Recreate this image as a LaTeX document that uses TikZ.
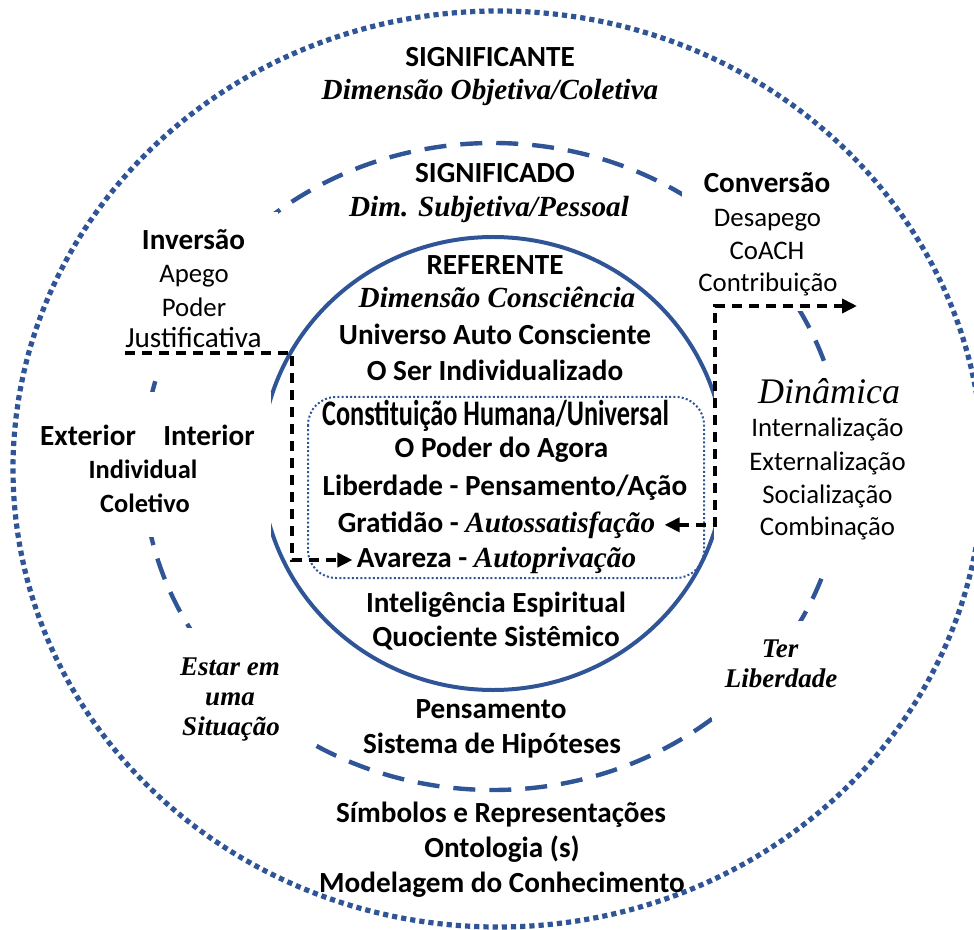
\documentclass[tikz,border=0pt]{standalone}
\usepackage{fontspec}
\setmainfont{Carlito}
\newfontfamily\handfont{Carlito}
\newfontfamily\brushfont{Liberation Serif}
\newfontfamily\dynfont{Liberation Serif}
\newfontfamily\condfont{Carlito}[FakeStretch=0.73]
\usetikzlibrary{arrows.meta}
\definecolor{ringblue}{RGB}{47,85,151}
\newcommand\brushtxt[1]{{\brushfont\bfseries\itshape #1}}

\tikzset{
  ring/.style={draw=ringblue},
  mask/.style={fill=white},
  title/.style={anchor=base, inner sep=0pt, font=\bfseries\fontsize{14.6}{17}\selectfont},
  titles/.style={title, font=\bfseries\fontsize{13.2}{16}\selectfont},
  hand/.style={anchor=base, inner sep=0pt, font=\handfont\fontsize{13.4}{16}\selectfont},
  handl/.style={hand, font=\handfont\fontsize{14.6}{17}\selectfont},
  brush/.style={anchor=base, inner sep=0pt, font=\brushfont\bfseries\itshape\fontsize{14.6}{17}\selectfont},
  brushs/.style={brush, font=\brushfont\bfseries\itshape\fontsize{13.5}{16}\selectfont},
  dyn/.style={anchor=base, inner sep=0pt, font=\dynfont\itshape\fontsize{18}{20}\selectfont},
  cond/.style={anchor=base, inner sep=0pt, font=\condfont\bfseries\fontsize{18}{20}\selectfont},
  flow/.style={draw=black, line width=1.8pt, dash pattern=on 5pt off 3.5pt}
}

\begin{document}
\begin{tikzpicture}[x=0.5pt, y=-0.5pt, >={Triangle[length=7.5pt, width=7pt]}]
\useasboundingbox (0,0) rectangle (974,930);

% rings
\draw[ring, line width=2.6pt, dash pattern=on 2.6pt off 2pt] (498,469) ellipse [x radius=242.5pt, y radius=229pt];
\draw[ring, line width=2.2pt, dash pattern=on 11pt off 7pt] (493,466.5) ellipse [x radius=175pt, y radius=161.75pt];
\draw[ring, line width=2pt] (493,463.5) ellipse [x radius=116pt, y radius=113.25pt];

% white boxes behind the side texts
\fill[mask] (110,212) rectangle (278,372);
\fill[mask] (682,160) rectangle (848,311);
\fill[mask] (714,362) rectangle (951,568);
\fill[mask] (30,392) rectangle (271,537);
\fill[mask] (150,628) rectangle (308,775);
\fill[mask] (712,621) rectangle (850,721);

% inner box
\draw[ring, line width=1pt, dash pattern=on 1pt off 1.1pt, rounded corners=14pt] (308,397) rectangle (704,578);

% centre column
\node[title] (sigte) at (490,67) {SIGNIFICANTE};
\node[brush] (dimobj) at (490,100) {Dimensão Objetiva/Coletiva};
\node[title] (sigdo) at (495,183) {SIGNIFICADO};
\node[brush] (dimsub) at (489,217) {Dim. Subjetiva/Pessoal};
\node[title] (refe) at (495,275) {REFERENTE};
\node[brush] (dimcon) at (497,308) {Dimensão Consciência};
\node[title] (univ) at (495,345) {Universo Auto Consciente};
\node[title] (ser) at (495,380) {O Ser Individualizado};
\node[cond] (const) at (495.5,425) {Constituição Humana/Universal};
\node[title] (agora) at (501.5,458) {O Poder do Agora};
\node[title] (liber) at (505,495) {Liberdade - Pensamento/Ação};
\node[title, inner xsep=4.5pt] (grat) at (496.5,532) {Gratidão - \brushtxt{Autossatisfação}};
\node[title, inner xsep=2pt] (avar) at (496.5,567) {Avareza - \brushtxt{Autoprivação}};
\node[title] (intel) at (496,612) {Inteligência Espiritual};
\node[title] (quoc) at (496,646) {Quociente Sistêmico};
\node[title] (pens) at (491,718) {Pensamento};
\node[title] (hipot) at (492,753) {Sistema de Hipóteses};
\node[title] (simb) at (501,822) {Símbolos e Representações};
\node[title] (onto) at (502,857) {Ontologia (s)};
\node[title] (model) at (502,892) {Modelagem do Conhecimento};

% left side
\node[title] (inv) at (193.5,250) {Inversão};
\node[hand] (apego) at (194,283) {Apego};
\node[hand] (poder) at (194,317) {Poder};
\node[handl] (justif) at (193.5,348) {Justificativa};
\node[title] (exter) at (88,445) {Exterior};
\node[title] (inter) at (209,445) {Interior};
\node[titles] (indiv) at (143,478) {Individual};
\node[titles] (colet) at (145,512) {Coletivo};
\node[brushs] (estar) at (230,675) {Estar em};
\node[brushs] (uma) at (230,705) {uma};
\node[brushs] (situ) at (231,735) {Situação};

% right side
\node[title] (conv) at (767,193) {Conversão};
\node[hand] (desap) at (767.5,227) {Desapego};
\node[hand] (coach) at (767,260) {CoACH};
\node[hand] (contrib) at (768,292) {Contribuição};
\node[dyn] (din) at (829,403) {Dinâmica};
\node[hand] (intern) at (827.5,437) {Internalização};
\node[hand] (extern) at (827.5,470) {Externalização};
\node[hand] (social) at (827.5,503) {Socialização};
\node[hand] (combin) at (827.5,535) {Combinação};
\node[brushs] (ter) at (780,657) {Ter};
\node[brushs] (liberd) at (781,687) {Liberdade};

% connectors
\coordinate (invend) at ([yshift=-2.5pt]justif.base west);
\coordinate (convend) at (857,306);
\draw[flow, ->] (invend) -- (292,353) |- (avar.west);
\draw[flow, <->] (grat.east) -| (715,306) -- (convend);
\end{tikzpicture}
\end{document}
